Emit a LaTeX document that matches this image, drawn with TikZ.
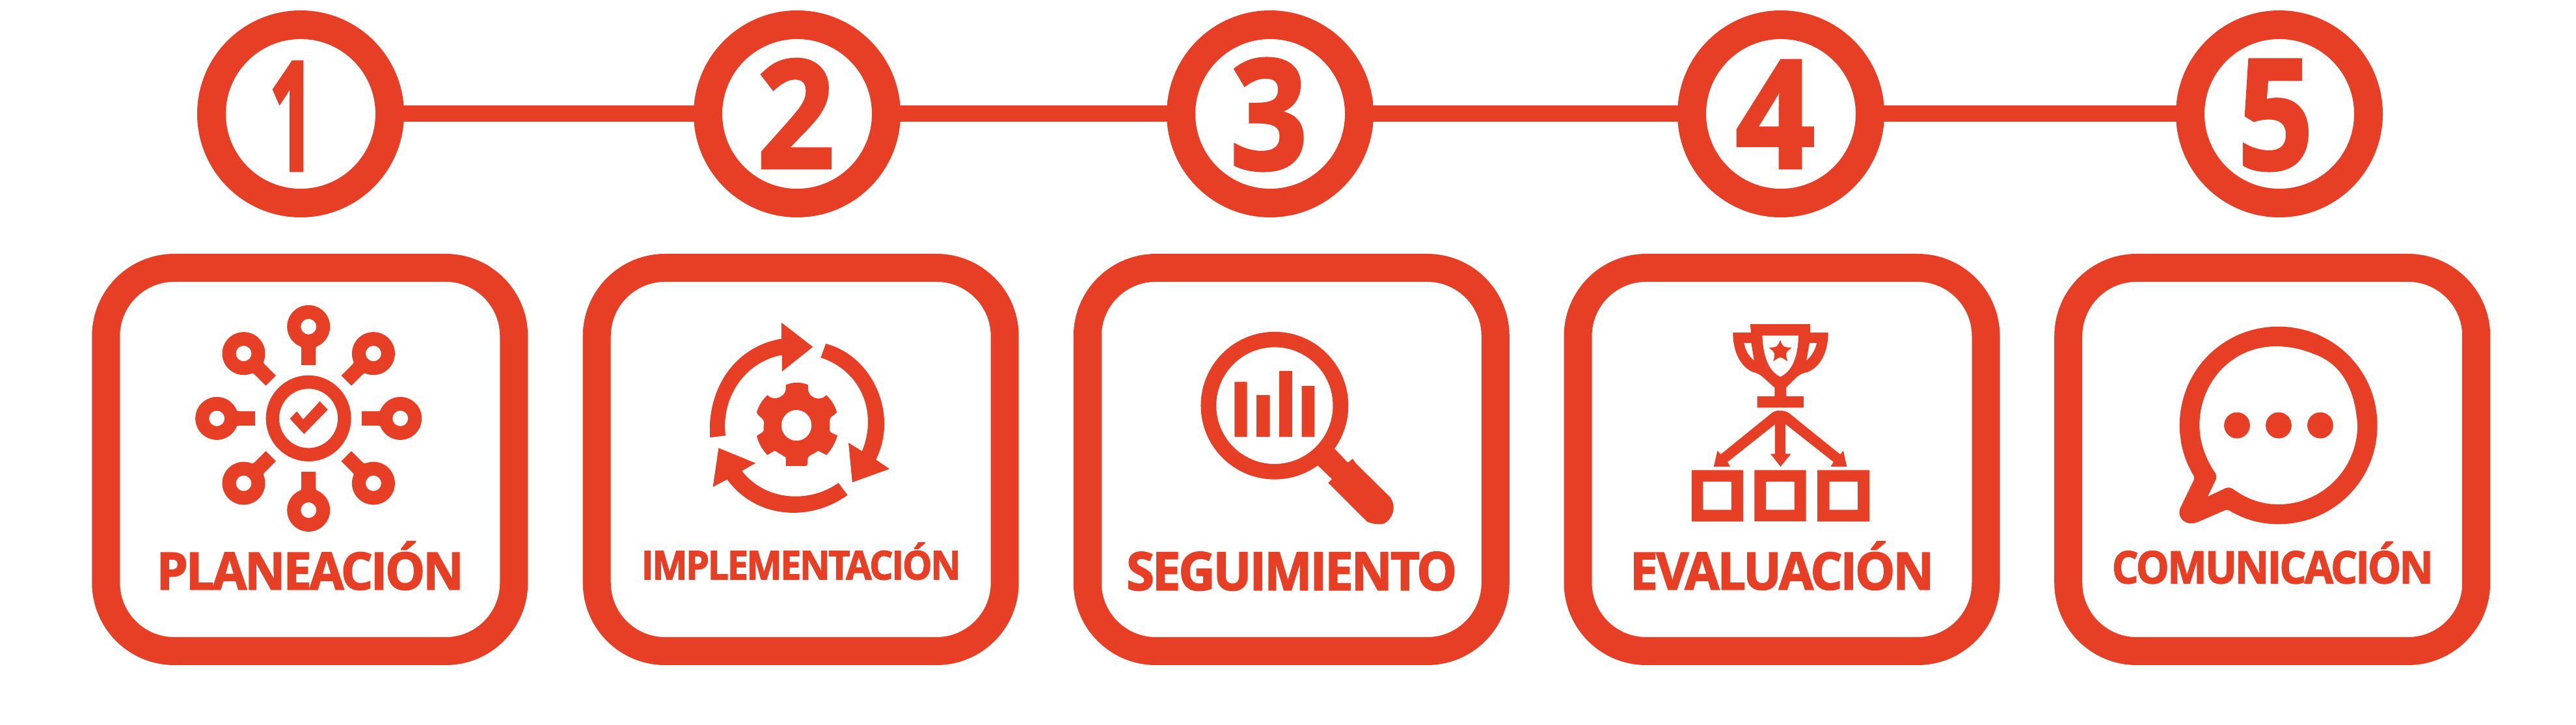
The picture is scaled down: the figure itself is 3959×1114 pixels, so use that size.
\documentclass[tikz,border=0pt]{standalone}
\usepackage{fontspec}
\setmainfont{Open Sans}[UprightFont=*-Bold,UprightFeatures={FakeBold=2,LetterSpace=-4}]
\definecolor{rojo}{HTML}{E73E26}
\tikzset{
  stepcircle/.style={circle,draw=rojo,line width=4.4mm,minimum size=27.4mm,inner sep=0pt,outer sep=0pt,fill=white},
  stepbox/.style={rectangle,draw=rojo,line width=4.3mm,minimum width=62.7mm,minimum height=58.9mm,rounded corners=10.5mm,inner sep=0pt,outer sep=0pt},
  link/.style={draw=rojo,line width=2.5mm},
  lab/.style={inner sep=0pt,outer sep=0pt,anchor=south west,text=rojo},
  num/.style={inner sep=0pt,outer sep=0pt,text=rojo},
  iconz/.style={x=0.048469mm,y=-0.044643mm},
  ink/.style={fill=rojo,draw=none,even odd rule}
}
\begin{document}
\begin{tikzpicture}[x=0.1mm,y=-0.1mm]
\useasboundingbox (0,0) rectangle (3959,1114);
% step circles
\node[stepcircle] (c1) at (462,175) {};
\node[stepcircle] (c2) at (1225,175) {};
\node[stepcircle] (c3) at (1952,175) {};
\node[stepcircle] (c4) at (2737,175) {};
\node[stepcircle] (c5) at (3503,175) {};
\draw[link] (c1) -- (c2);
\draw[link] (c2) -- (c3);
\draw[link] (c3) -- (c4);
\draw[link] (c4) -- (c5);
\node[num] (n1) at (449,178.5) {\resizebox{7.2mm}{16.7mm}{1}};
\node[num] (n2) at (1223,174.5) {\resizebox{11.9mm}{16.7mm}{2}};
\node[num] (n3) at (1950,176) {\resizebox{11.9mm}{17mm}{3}};
\node[num] (n4) at (2728,175.5) {\resizebox{12.2mm}{16.5mm}{4}};
\node[num] (n5) at (3497,177) {\resizebox{11.6mm}{16.8mm}{5}};
% boxes
\node[stepbox] (b1) at (476.3,706) {};
\node[stepbox] (b2) at (1230.7,706) {};
\node[stepbox] (b3) at (1984.8,706) {};
\node[stepbox] (b4) at (2738.5,706) {};
\node[stepbox] (b5) at (3492.2,706) {};
% labels
\node[lab] (l1) at (240.6,906.7) {\resizebox{47.2mm}{7.4mm}{PLANEACIÓN}};
\node[lab] (l2) at (985.7,891) {\resizebox{49.1mm}{5.7mm}{IMPLEMENTACIÓN}};
\node[lab] (l3) at (1731,907.6) {\resizebox{50.8mm}{5.9mm}{SEGUIMIENTO}};
\node[lab] (l4) at (2505,906.7) {\resizebox{46.7mm}{7.4mm}{EVALUACIÓN}};
\node[lab] (l5) at (3245.7,897) {\resizebox{49.4mm}{6.4mm}{COMUNICACIÓN}};
% icon 1: planeacion
\foreach \a in {0,45,...,315}{
 \begin{scope}[shift={(474.2,642.9)},rotate=\a]
  \fill[ink] (-11,-82) -- (-11,-105) .. controls (-11,-112) and (-14,-113) .. (-18,-116) -- (18,-116) .. controls (14,-113) and (11,-112) .. (11,-105) -- (11,-82) -- cycle;
  \fill[ink] (0,-141) circle (33) (0,-141) circle (12);
 \end{scope}
}
\begin{scope}[xshift=10mm,yshift=-35mm,iconz]
 \fill[ink] (772,656) ellipse (135 and 148) (772,656) ellipse (93 and 102);
 \fill[ink] (713,657) -- (735,632) -- (755,660) -- (808,597) -- (833,626) -- (758,710) -- cycle;
\end{scope}
% icon 2: implementacion
\begin{scope}[xshift=88mm,yshift=-35mm,iconz]
 \fill[ink] (436,722) .. controls (425,560) and (510,410) .. (662,382) -- (662,326) -- (762,410) -- (664,495) -- (664,438) .. controls (550,460) and (470,580) .. (485,715) -- cycle;
 \fill[ink] (803,399) .. controls (950,440) and (1035,640) .. (962,798) -- (1005,830) -- (887,876) -- (875,740) -- (918,769) .. controls (970,630) and (910,490) .. (787,447) -- cycle;
 \fill[ink] (872,920) .. controls (750,1015) and (580,1000) .. (490,866) -- (445,892) -- (463,758) -- (580,810) -- (537,837) .. controls (610,940) and (750,950) .. (843,878) -- cycle;
 \fill[ink] (676,541) .. controls (700,530) and (725,530) .. (747,541) -- (747,555) .. controls (747,585) and (785,600) .. (805,576)
  .. controls (820,592) and (832,612) .. (838,635) .. controls (825,650) and (815,650) .. (815,665) -- (815,695) .. controls (815,705) and (825,708) .. (840,715)
  .. controls (832,742) and (822,762) .. (805,782) -- (778,767) .. controls (765,782) and (745,780) .. (745,800) -- (745,812) .. controls (745,818) and (742,820) .. (738,820)
  -- (676,820) -- (676,790) -- (641,767) -- (618,782) .. controls (602,765) and (590,742) .. (584,717) .. controls (595,705) and (608,708) .. (606,690) .. controls (604,680) and (610,678) .. (606,665) .. controls (600,650) and (590,652) .. (584,635)
  .. controls (590,612) and (602,592) .. (618,576) .. controls (640,600) and (676,580) .. (676,555) -- cycle
  (710,680) ellipse (48 and 53);
\end{scope}
% icon 3: seguimiento
\begin{scope}[xshift=164mm,yshift=-35mm,iconz]
 \fill[ink] (658,612) ellipse (234 and 254) (658,612) ellipse (185 and 201);
 \fill[ink] (531,530) rectangle (571,720) (601,576) rectangle (643,720) (673,493) rectangle (714,720) (744,544) rectangle (785,720);
 \fill[ink] (848,760) -- (890,808) -- (906,795) -- (915,810) -- (1025,928) .. controls (1045,960) and (1035,1000) .. (1005,1018) .. controls (990,1022) and (970,1020) .. (952,1012) -- (828,878) -- (840,865) -- (795,818) -- cycle;
\end{scope}
% icon 4: evaluacion
\begin{scope}[xshift=239mm,yshift=-35mm,iconz]
 \fill[ink] (619,332) -- (809,332) -- (809,361) -- (866,361) .. controls (866,430) and (840,480) .. (800,497) .. controls (785,500) and (775,505) .. (765,515) -- (733,550) -- (733,580) -- (788,580) -- (788,619) -- (641,619) -- (641,580) -- (696,580) -- (696,550) -- (660,515) .. controls (650,505) and (640,500) .. (628,497) .. controls (590,480) and (564,430) .. (564,361) -- (621,361) -- cycle
  (657,371) -- (772,371) .. controls (770,450) and (750,495) .. (714,513) .. controls (680,495) and (660,450) .. (657,371) -- cycle
  (599,396) -- (622,396) -- (631,457) .. controls (612,440) and (603,420) .. (599,396) -- cycle
  (807,396) -- (830,396) .. controls (825,420) and (815,440) .. (797,457) -- cycle;
 \fill[ink] (714,386) .. controls (722,410) .. (750,413) .. controls (730,430) .. (737,460) .. controls (714,442) .. (692,460) .. controls (698,430) .. (678,413) .. controls (705,410) .. (714,386) -- cycle;
 \fill[ink] (690,635) -- (525,780) -- (515,767) -- (503,822) -- (555,822) -- (547,806) -- (698,676) -- (698,778) -- (683,778) -- (715,822) -- (748,778) -- (731,778) -- (731,676) -- (883,806) -- (874,822) -- (925,822) -- (914,767) -- (904,780) -- (750,645) .. controls (735,627) and (705,625) .. (690,635) -- cycle;
 \fill[ink] (433,834) rectangle (596,1011) (469,874) rectangle (559,971);
 \fill[ink] (632,834) rectangle (796,1010) (669,874) rectangle (759,971);
 \fill[ink] (832,834) rectangle (997,1011) (870,874) rectangle (960,971);
\end{scope}
% icon 5: comunicacion
\begin{scope}[xshift=314mm,yshift=-35mm,iconz]
 \fill[ink] (746,340) .. controls (920,340) and (1060,490) .. (1060,680) .. controls (1060,870) and (920,1020) .. (746,1020) .. controls (690,1020) and (640,1005) .. (590,973) .. controls (585,970) and (580,970) .. (575,973) -- (490,1013) .. controls (450,1030) and (420,995) .. (437,960) -- (478,868) .. controls (481,860) and (478,852) .. (473,845) .. controls (447,795) and (433,740) .. (433,680) .. controls (433,490) and (572,340) .. (746,340) -- cycle
  (738,408) .. controls (600,408) and (496,530) .. (496,680) .. controls (496,740) and (515,790) .. (540,835) .. controls (552,850) and (552,860) .. (545,873) -- (522,925) -- (575,898) .. controls (590,890) and (597,895) .. (610,905) .. controls (650,935) and (695,952) .. (746,952) .. controls (885,952) and (997,830) .. (997,680) .. controls (990,560) and (950,470) .. (860,435) .. controls (820,417) and (780,408) .. (738,408) -- cycle;
 \fill[ink] (615,680) ellipse (41 and 45) (747,680) ellipse (41 and 45) (879,680) ellipse (41 and 45);
\end{scope}
\end{tikzpicture}
\end{document}
